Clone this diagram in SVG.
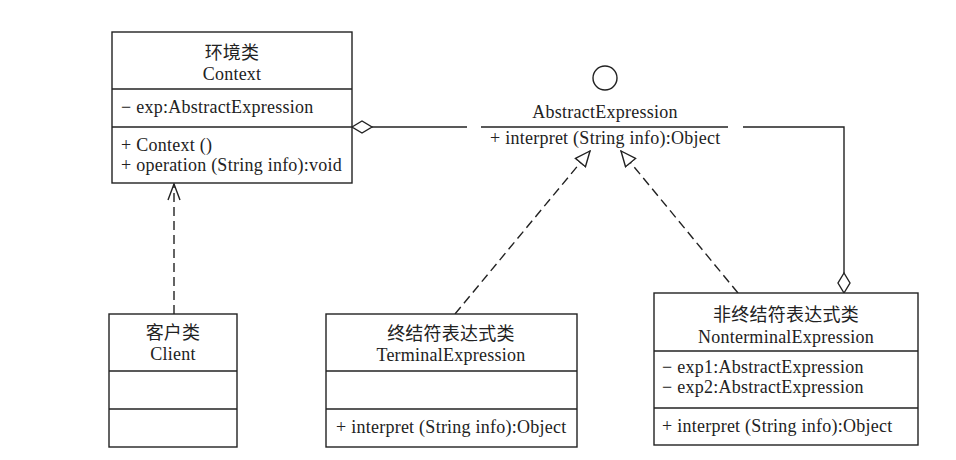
<svg xmlns="http://www.w3.org/2000/svg" width="956" height="460" viewBox="0 0 956 460">
<style>
  text { font-family: "Liberation Serif", "Noto Sans CJK SC", serif; font-size: 18px; fill: #222; letter-spacing: 0.25px; }
  .c { text-anchor: middle; }
  .box { fill: #fff; stroke: #222; stroke-width: 1.4; }
  .ln { stroke: #222; stroke-width: 1.4; fill: none; }
  .dash { stroke: #222; stroke-width: 1.4; fill: none; stroke-dasharray: 9 5; }
</style>
<defs>
  <marker id="tri" viewBox="0 0 17 15" refX="16" refY="7.5" markerWidth="17" markerHeight="15" markerUnits="userSpaceOnUse" orient="auto">
    <path d="M1,1 L16,7.5 L1,14 Z" fill="#fff" stroke="#222" stroke-width="1.4" stroke-dasharray="none"/>
  </marker>
  <marker id="open" viewBox="0 0 18 14" refX="17" refY="7" markerWidth="18" markerHeight="14" markerUnits="userSpaceOnUse" orient="auto">
    <path d="M1,1 L17,7 L1,13" fill="none" stroke="#222" stroke-width="1.4" stroke-dasharray="none"/>
  </marker>
</defs>
<rect width="956" height="460" fill="#fff"/>

<g id="connectors">
  <!-- Context aggregation to AbstractExpression -->
  <line class="ln" x1="372" y1="127" x2="467" y2="127"/>
  <path class="ln" d="M352,127 L362,121 L372,127 L362,133 Z" fill="#fff"/>
  <!-- AbstractExpression to Nonterminal aggregation -->
  <polyline class="ln" points="743,127 844,127 844,273"/>
  <path class="ln" d="M844,273 L850,283 L844,293 L838,283 Z" fill="#fff"/>
  <!-- Client dependency to Context -->
  <line class="dash" x1="174" y1="314" x2="174" y2="184" marker-end="url(#open)"/>
  <!-- Realizations -->
  <line class="dash" x1="455" y1="314" x2="590" y2="151" marker-end="url(#tri)"/>
  <line class="dash" x1="738" y1="293" x2="621" y2="151" marker-end="url(#tri)"/>
</g>

<g id="context">
  <rect class="box" x="112" y="32" width="240" height="151"/>
  <line class="ln" x1="112" y1="89" x2="352" y2="89"/>
  <line class="ln" x1="112" y1="127" x2="352" y2="127"/>
  <text class="c" x="232" y="59">环境类</text>
  <text class="c" x="232" y="80">Context</text>
  <text x="121" y="113">− exp:AbstractExpression</text>
  <text x="121" y="151">+ Context ()</text>
  <text x="121" y="171">+ operation (String info):void</text>
</g>

<g id="abstractExpression">
  <circle class="ln" cx="605" cy="78" r="12"/>
  <text class="c" x="605" y="118">AbstractExpression</text>
  <line class="ln" x1="481" y1="127" x2="728" y2="127"/>
  <text x="490" y="144">+ interpret (String info):Object</text>
</g>

<g id="client">
  <rect class="box" x="109" y="314" width="128" height="133"/>
  <line class="ln" x1="109" y1="371" x2="237" y2="371"/>
  <line class="ln" x1="109" y1="409" x2="237" y2="409"/>
  <text class="c" x="173" y="339">客户类</text>
  <text class="c" x="173" y="360">Client</text>
</g>

<g id="terminalExpression">
  <rect class="box" x="326" y="314" width="251" height="133"/>
  <line class="ln" x1="326" y1="371" x2="577" y2="371"/>
  <line class="ln" x1="326" y1="409" x2="577" y2="409"/>
  <text class="c" x="451" y="340">终结符表达式类</text>
  <text class="c" x="451" y="361">TerminalExpression</text>
  <text x="336" y="433">+ interpret (String info):Object</text>
</g>

<g id="nonterminalExpression">
  <rect class="box" x="654" y="293" width="264" height="152"/>
  <line class="ln" x1="654" y1="351" x2="918" y2="351"/>
  <line class="ln" x1="654" y1="408" x2="918" y2="408"/>
  <text class="c" x="786" y="321">非终结符表达式类</text>
  <text class="c" x="786" y="343">NonterminalExpression</text>
  <text x="662" y="373">− exp1:AbstractExpression</text>
  <text x="662" y="393">− exp2:AbstractExpression</text>
  <text x="662" y="432">+ interpret (String info):Object</text>
</g>
</svg>
